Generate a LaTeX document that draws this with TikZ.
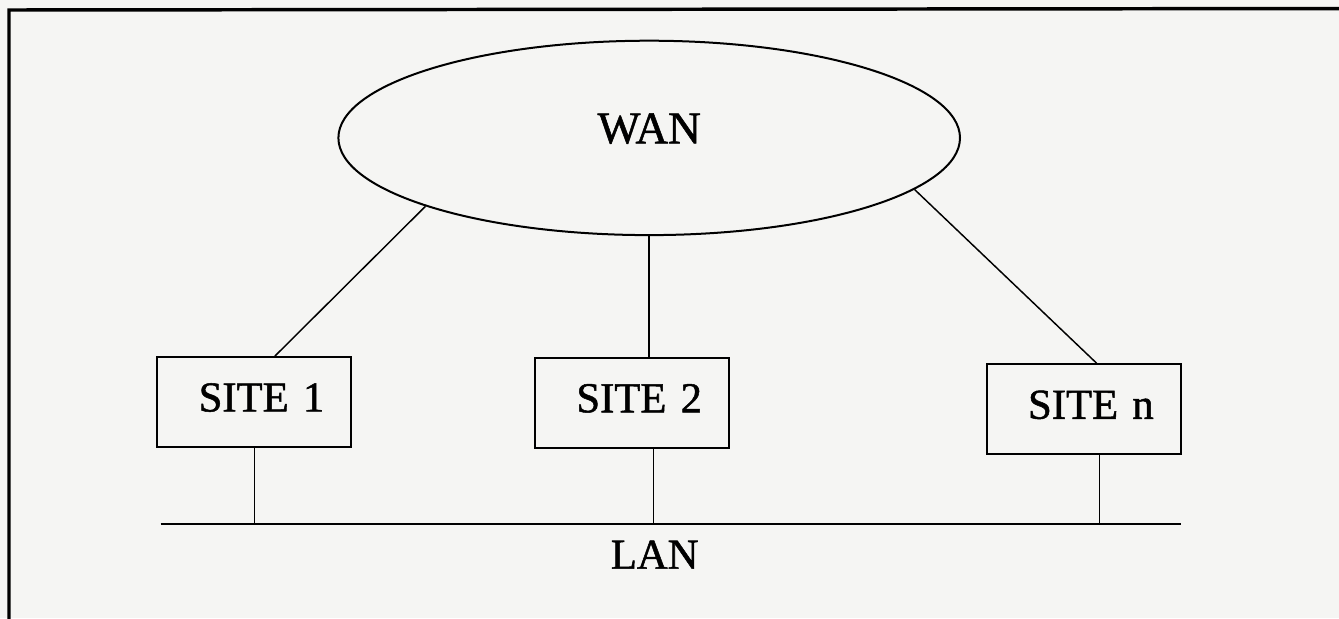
\documentclass[tikz,border=0pt]{standalone}
\usepackage{fontspec}
\setmainfont{Liberation Serif}[FakeBold=1.2]
\usetikzlibrary{shapes.geometric,calc}
\definecolor{paper}{RGB}{245,245,243}

\tikzset{every picture/.style={line width=0.75pt}}
\tikzset{
	netcloud/.style={draw, ellipse, line width=1.5pt, inner sep=0pt, minimum width=466.2pt, minimum height=145.8pt, text depth=14.4pt, font=\fontsize{34}{40}\selectfont},
	sitebox/.style={draw, rectangle, line width=1.5pt, inner sep=0pt, minimum width=145.5pt, minimum height=67.5pt, text width=105pt, align=right, text depth=7pt, font=\fontsize{32}{38}\selectfont},
	link/.style={line width=1.1pt},
	bus/.style={line width=1.5pt},
	lbl/.style={inner sep=0pt, font=\fontsize{32}{38}\selectfont}
}

\begin{document}
\begin{tikzpicture}[x=0.75pt,y=0.75pt,yscale=-1,xscale=1]
	\useasboundingbox (0,0) rectangle (1339,618);
	\fill[paper] (0,0) rectangle (1339,618);

	%Shape: Frame
	\draw[line width=2.6pt] (9,640) -- (9,10) -- (1360,8.5) ;

	%Shape: Ellipse
	\node[netcloud] (wan) at (649.2,137.9) {WAN};

	%Shape: Rectangle
	\node[sitebox] (site1) at (254.3,402) {SITE 1};
	\node[sitebox] (site2) at (632,402.8) {SITE 2};
	\node[sitebox] (siten) at (1083.7,409.3) {SITE n};

	%Straight Lines
	\draw[link] (wan.197.6) -- ($(site1.north)+(20.7,0)$) ;
	\draw[link] (wan.south) -- (wan.south |- site2.north) ;
	\draw[link] (wan.349.3) -- ($(siten.north)+(13,0)$) ;

	%Straight Lines: LAN
	\coordinate (lanL) at (160.7,523.5);
	\coordinate (lanR) at (1181,523.5);
	\draw[bus] (lanL) -- (lanR) ;
	\coordinate (drop1) at (site1.south);
	\coordinate (drop2) at ($(site2.south)+(21.3,0)$);
	\coordinate (dropn) at ($(siten.south)+(15.6,0)$);
	\draw[link] (drop1) -- (drop1 |- lanL) ;
	\draw[link] (drop2) -- (drop2 |- lanL) ;
	\draw[link] (dropn) -- (dropn |- lanL) ;

	% Text Node
	\node[lbl] (lan) at (654.7,554.6) {LAN};

\end{tikzpicture}
\end{document}
